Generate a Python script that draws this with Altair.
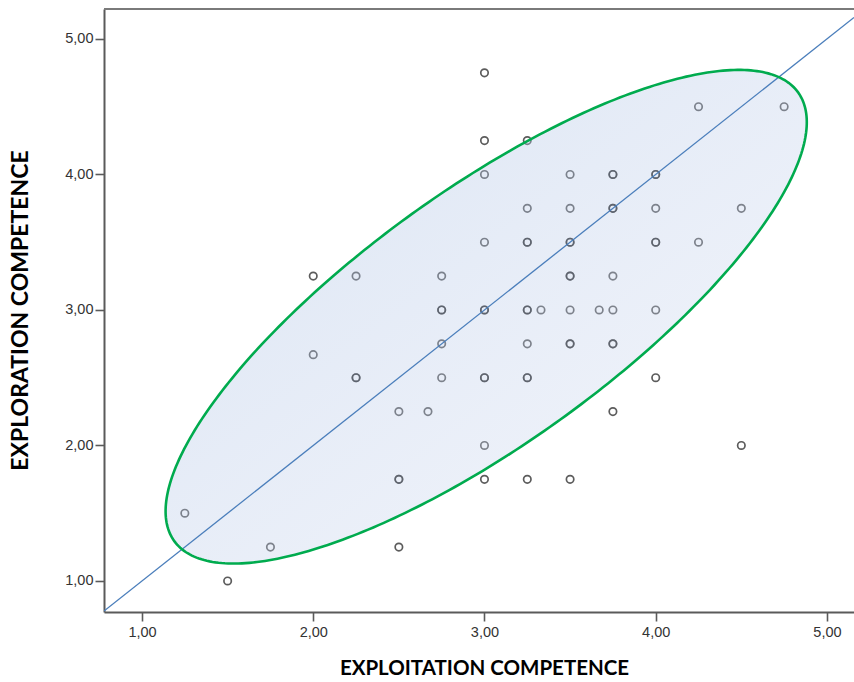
import altair as alt
import pandas as pd
import numpy as np

# ---- data ----
exploit = [1.25, 1.5, 1.75, 2.0, 2.0, 2.25, 2.25, 2.5, 2.5, 2.5, 2.67,
           2.75, 2.75, 2.75, 2.75,
           3.0, 3.0, 3.0, 3.0, 3.0, 3.0, 3.0, 3.0,
           3.25, 3.25, 3.25, 3.25, 3.25, 3.25, 3.25, 3.33,
           3.5, 3.5, 3.5, 3.5, 3.5, 3.5, 3.5, 3.67,
           3.75, 3.75, 3.75, 3.75, 3.75, 3.75,
           4.0, 4.0, 4.0, 4.0, 4.0,
           4.25, 4.25, 4.5, 4.5, 4.75]
explore = [1.5, 1.0, 1.25, 3.25, 2.67, 3.25, 2.5, 2.25, 1.75, 1.25, 2.25,
           3.25, 3.0, 2.75, 2.5,
           4.75, 4.25, 4.0, 3.5, 3.0, 2.5, 2.0, 1.75,
           4.25, 3.75, 3.5, 3.0, 2.75, 2.5, 1.75, 3.0,
           4.0, 3.75, 3.5, 3.25, 3.0, 2.75, 1.75, 3.0,
           4.0, 3.75, 3.25, 3.0, 2.75, 2.25,
           4.0, 3.75, 3.5, 3.0, 2.5,
           4.5, 3.5, 3.75, 2.0, 4.5]
counts = [1, 1, 1, 1, 1, 1, 2, 1, 2, 1, 1,
          1, 2, 1, 1,
          1, 1, 1, 1, 2, 2, 1, 1,
          1, 1, 2, 2, 1, 2, 1, 1,
          1, 1, 2, 2, 1, 2, 1, 1,
          2, 2, 1, 1, 2, 1,
          2, 1, 2, 1, 1,
          1, 1, 1, 1, 1]

tick_values = [1, 2, 3, 4, 5]
x_title = "EXPLOITATION COMPETENCE"
y_title = "EXPLORATION COMPETENCE"

X_DOMAIN = [0.778, 5.158]
Y_DOMAIN = [0.771, 5.221]

# ellipse (drawn in data space)
ELL_CX, ELL_CY = 3.01, 2.95
ELL_A, ELL_B = 2.47, 0.85
ELL_ANGLE = np.deg2rad(44.0)

# ---- tables ----
rows = []
for xv, yv, c in zip(exploit, explore, counts):
    for _ in range(c):
        rows.append({"x": xv, "y": yv})
pts = pd.DataFrame(rows)

cphi, sphi = np.cos(ELL_ANGLE), np.sin(ELL_ANGLE)
t = np.linspace(0, 2 * np.pi, 361)
u = ELL_A * np.cos(t)
v = ELL_B * np.sin(t)
outline = pd.DataFrame({"x": ELL_CX + u * cphi - v * sphi,
                        "y": ELL_CY + u * sphi + v * cphi,
                        "t": np.arange(len(t))})

A = sphi ** 2 / ELL_A ** 2 + cphi ** 2 / ELL_B ** 2
B = 2 * cphi * sphi * (1 / ELL_A ** 2 - 1 / ELL_B ** 2)
C = cphi ** 2 / ELL_A ** 2 + sphi ** 2 / ELL_B ** 2
xmax = np.sqrt(4 * A / (4 * A * C - B ** 2))
th = np.linspace(np.pi, 0, 301)
X = xmax * np.cos(th)
disc = np.clip(B ** 2 * X ** 2 - 4 * A * (C * X ** 2 - 1), 0, None)
yu = (-B * X + np.sqrt(disc)) / (2 * A)
yl = (-B * X - np.sqrt(disc)) / (2 * A)
band = pd.DataFrame({"x": ELL_CX + X, "y": ELL_CY + yu, "y2": ELL_CY + yl})

diag = pd.DataFrame({"x": X_DOMAIN, "y": X_DOMAIN})

label_expr = "replace(format(datum.value, '.2f'), '.', ',')"
xscale = alt.Scale(domain=X_DOMAIN, nice=False, zero=False)
yscale = alt.Scale(domain=Y_DOMAIN, nice=False, zero=False)

title_font = "Lato, sans-serif"

xaxis = alt.Axis(values=tick_values, labelExpr=label_expr, grid=False,
                 title=x_title, titleFont=title_font, titleFontSize=20.5, titleFontWeight="bold",
                 titleColor="#000000", titleX=380, titleY=56, titleBaseline="middle",
                 titleAlign="center", labelPadding=4)
yaxis = alt.Axis(values=tick_values, labelExpr=label_expr, grid=False,
                 title=y_title, titleFont=title_font, titleFontSize=23, titleFontWeight="bold",
                 titleColor="#000000", titleX=-84, titleY=301, titleAngle=270,
                 titleBaseline="middle", titleAlign="center", labelPadding=2)

X_ENC = alt.X("x:Q", scale=xscale, axis=xaxis)
Y_ENC = alt.Y("y:Q", scale=yscale, axis=yaxis)

points = alt.Chart(pts).mark_point(shape="circle", filled=False, size=55, strokeWidth=1.7,
                                   color="#1e1e1e", opacity=0.72).encode(x=X_ENC, y=Y_ENC)

grad = alt.Gradient(
    gradient="linear",
    stops=[alt.GradientStop(color="rgba(158,184,224,0.38)", offset=0),
           alt.GradientStop(color="rgba(215,222,242,0.30)", offset=1)],
    x1=0, y1=0, x2=1, y2=1,
)
fill = alt.Chart(band).mark_area(color=grad, strokeWidth=0).encode(x=X_ENC, y=Y_ENC, y2="y2:Q")

diag_line = alt.Chart(diag).mark_line(color="#4a7ebb", strokeWidth=1.3, clip=True).encode(x=X_ENC, y=Y_ENC)

ell_line = alt.Chart(outline).mark_line(color="#00ab4e", strokeWidth=2.6).encode(
    x=X_ENC, y=Y_ENC, order="t:Q")

top_border = alt.Chart(pd.DataFrame({"k": [0]})).mark_rule(color="#7a7a7a", strokeWidth=2).encode(
    x=alt.value(0), x2=alt.value(750), y=alt.value(0)
)

chart = alt.layer(points, fill, diag_line, ell_line, top_border).properties(
    width=750, height=603,
    autosize=alt.AutoSizeParams(type="none"),
    padding={"left": 104, "top": 9, "right": 0, "bottom": 70},
).configure_view(stroke=None).configure_axis(
    domainColor="#5a5a5a", domainWidth=2, tickColor="#5a5a5a", tickWidth=1.6, tickSize=9,
    labelFont="Liberation Sans", labelFontSize=14.5, labelColor="#333333",
)

chart.save("out.html", embed_options={"renderer": "svg", "actions": False})
